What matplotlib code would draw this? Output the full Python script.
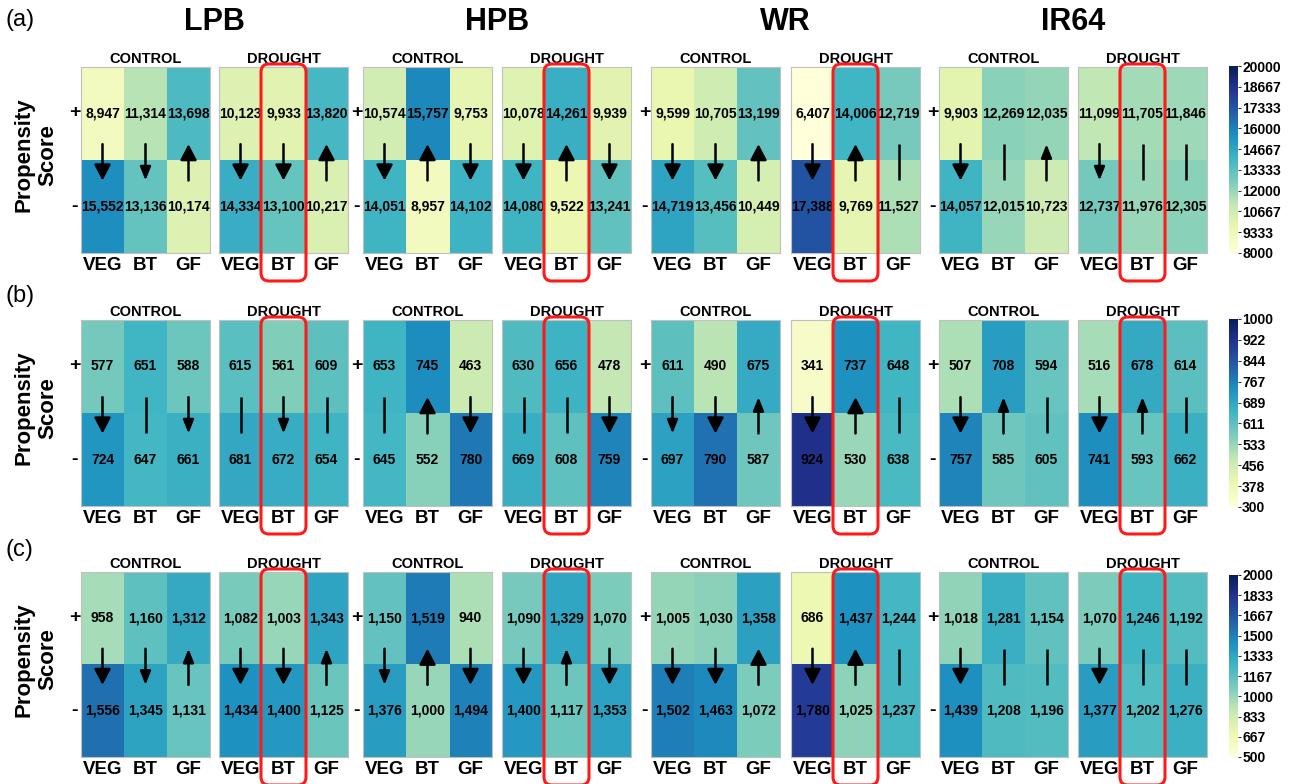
import numpy as np
import matplotlib
matplotlib.use('Agg')
import matplotlib.pyplot as plt
from matplotlib.patches import FancyBboxPatch
from matplotlib.cm import ScalarMappable
from matplotlib.colors import Normalize

plt.rcParams['font.family'] = ['Liberation Sans', 'DejaVu Sans']

cultivars = ['LPB', 'HPB', 'WR', 'IR64']
conditions = ['CONTROL', 'DROUGHT']
stages = ['VEG', 'BT', 'GF']
row_tags = ['(a)', '(b)', '(c)']

# panel order: LPB-C, LPB-D, HPB-C, HPB-D, WR-C, WR-D, IR64-C, IR64-D
a_plus = [[8947, 11314, 13698], [10123, 9933, 13820], [10574, 15757, 9753], [10078, 14261, 9939],
          [9599, 10705, 13199], [6407, 14006, 12719], [9903, 12269, 12035], [11099, 11705, 11846]]
a_minus = [[15552, 13136, 10174], [14334, 13100, 10217], [14051, 8957, 14102], [14080, 9522, 13241],
           [14719, 13456, 10449], [17388, 9769, 11527], [14057, 12015, 10723], [12737, 11976, 12305]]
a_arrows = ['DdU', 'DDU', 'DUD', 'DUD', 'DDU', 'DUn', 'Dnu', 'dnn']

b_plus = [[577, 651, 588], [615, 561, 609], [653, 745, 463], [630, 656, 478],
          [611, 490, 675], [341, 737, 648], [507, 708, 594], [516, 678, 614]]
b_minus = [[724, 647, 661], [681, 672, 654], [645, 552, 780], [669, 608, 759],
           [697, 790, 587], [924, 530, 638], [757, 585, 605], [741, 593, 662]]
b_arrows = ['Dnd', 'ndn', 'nUD', 'nnD', 'dDu', 'DUn', 'Dun', 'Dun']

c_plus = [[958, 1160, 1312], [1082, 1003, 1343], [1150, 1519, 940], [1090, 1329, 1070],
          [1005, 1030, 1358], [686, 1437, 1244], [1018, 1281, 1154], [1070, 1246, 1192]]
c_minus = [[1556, 1345, 1131], [1434, 1400, 1125], [1376, 1000, 1494], [1400, 1117, 1353],
           [1502, 1463, 1072], [1780, 1025, 1237], [1439, 1208, 1196], [1377, 1202, 1276]]
c_arrows = ['Ddu', 'DDu', 'dUD', 'DuD', 'DDU', 'DUn', 'Dnn', 'Dnn']

ranges = [(8000, 20000), (300, 1000), (500, 2000)]

rows = [(a_plus, a_minus, a_arrows), (b_plus, b_minus, b_arrows), (c_plus, c_minus, c_arrows)]

W, H = 1291, 784
fig = plt.figure(figsize=(W / 100, H / 100), dpi=100)

def fx(x):
    return x / W

def fy(y):
    return 1 - y / H

panel_x = [(81, 210), (219, 348), (363, 492), (502, 631), (651, 780), (791, 920), (939, 1068), (1078, 1207)]
row_y = [(67, 253), (320, 506), (572, 757)]
tag_y = [20, 296, 550]
cbar_y = [(66, 253), (319, 507), (575, 757)]

for r, (plus, minus, arrows) in enumerate(rows):
    vmin, vmax = ranges[r]
    y0, y1 = row_y[r]
    fig.text(fx(6), fy(tag_y[r]), row_tags[r], fontsize=17, ha='left', va='center')
    fig.text(fx(36), fy((y0 + y1) / 2 - 5), 'Propensity\nScore', rotation=90, fontsize=16,
             fontweight='bold', ha='center', va='center', linespacing=1.15)
    for p in range(8):
        x0, x1 = panel_x[p]
        ax = fig.add_axes([fx(x0), fy(y1), fx(x1 - x0), (y1 - y0) / H])
        data = np.array([plus[p], minus[p]])
        ax.imshow(data, cmap='YlGnBu', vmin=vmin, vmax=vmax, aspect='auto', extent=(0, 3, 2, 0),
                  interpolation='nearest')
        ax.set_xlim(0, 3)
        ax.set_ylim(2, 0)
        ax.set_xticks([0.5, 1.5, 2.5])
        ax.set_xticklabels(stages, fontsize=13.5, fontweight='bold')
        ax.tick_params(axis='x', length=0, pad=3)
        ax.set_yticks([])
        for s in ax.spines.values():
            s.set_color('#c0c0c0')
            s.set_linewidth(0.8)
        ax.set_title(conditions[p % 2], fontsize=10.5, fontweight='bold', pad=3)
        for j in range(3):
            ax.text(j + 0.5, 0.5, f'{plus[p][j]:,}', ha='center', va='center', fontsize=10,
                    fontweight='bold')
            ax.text(j + 0.5, 1.5, f'{minus[p][j]:,}', ha='center', va='center', fontsize=10,
                    fontweight='bold')
            kind = arrows[p][j]
            if kind == 'n':
                ax.plot([j + 0.5, j + 0.5], [0.83, 1.22], color='black', lw=1.8,
                        solid_capstyle='butt')
                continue
            big = kind.isupper()
            style = '-|>,head_length=0.95,head_width=0.5' if big else '-|>,head_length=0.8,head_width=0.32'
            if kind.lower() == 'd':
                tail, head = 0.83, 1.22
            else:
                tail, head = 1.22, 0.83
            ax.annotate('', xy=(j + 0.5, head), xytext=(j + 0.5, tail),
                        arrowprops=dict(arrowstyle=style, lw=1.8, color='black',
                                        shrinkA=0, shrinkB=0))
        if p % 2 == 0:
            fig.text(fx(x0 - 6), fy(y0 + (y1 - y0) * 0.25 - 1), '+', fontsize=14, fontweight='bold',
                     ha='center', va='center')
            fig.text(fx(x0 - 6), fy(y0 + (y1 - y0) * 0.75), '-', fontsize=14, fontweight='bold',
                     ha='center', va='center')
        else:
            # red highlight around BT column
            bx0 = x0 + (x1 - x0) / 3 - 1
            bw = (x1 - x0) / 3 + 2
            by_top = y0 - 3
            by_bot = y1 + 28
            box = FancyBboxPatch((bx0 / 100, (H - by_bot) / 100), bw / 100, (by_bot - by_top) / 100,
                                 boxstyle='round,pad=0,rounding_size=0.08',
                                 transform=fig.dpi_scale_trans, fill=False,
                                 edgecolor='#ff1a1a', linewidth=2.2, zorder=10)
            fig.patches.append(box)
    if r == 0:
        for c in range(4):
            xc = (panel_x[2 * c][0] + panel_x[2 * c + 1][1]) / 2
            fig.text(fx(xc), fy(22), cultivars[c], fontsize=22, fontweight='bold',
                     ha='center', va='center')
    cy0, cy1 = cbar_y[r]
    cax = fig.add_axes([fx(1229), fy(cy1), fx(9), (cy1 - cy0) / H])
    sm = ScalarMappable(norm=Normalize(vmin, vmax), cmap='YlGnBu')
    ticks = np.linspace(vmin, vmax, 10)
    cb = fig.colorbar(sm, cax=cax, ticks=ticks)
    cb.ax.set_yticklabels([f'{t:.0f}' for t in ticks], fontsize=10, fontweight='bold')
    cb.ax.tick_params(length=2, width=0.6, pad=1)
    cb.outline.set_visible(False)

fig.savefig('out.png', dpi=100)
